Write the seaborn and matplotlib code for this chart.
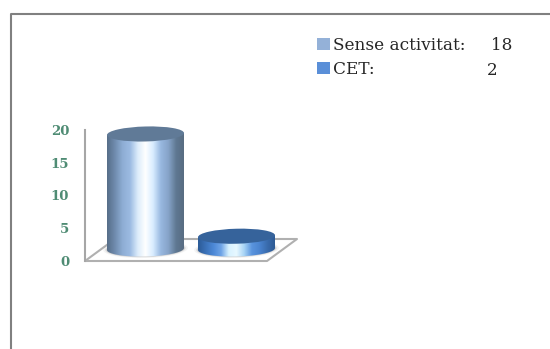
import numpy as np
import matplotlib
matplotlib.use("Agg")
import matplotlib.pyplot as plt
from matplotlib.colors import LinearSegmentedColormap
from matplotlib.lines import Line2D
from matplotlib.patches import Ellipse, Patch, Polygon
from matplotlib.transforms import Affine2D
import seaborn as sns

# Chart data
categories = ["Sense activitat", "CET"]
values = [18, 2]
y_ticks = [0, 5, 10, 15, 20]

# Styling
legend_colors = ["#94b1d8", "#5a8fd8"]
cap_colors = ["#607a97", "#36639b"]
side_stops = [
    ["#566d88", "#6f8bad", "#8eadd4", "#9cbbe2", "#dcecfb", "#ffffff", "#d8ecff", "#98b8e0", "#86a3c8", "#5f7892", "#586c82"],
    ["#2c5a96", "#3b71b8", "#4c88d6", "#6ea4e6", "#d8f2ff", "#e8f8ff", "#a8d4f6", "#5a94de", "#4a84d0", "#3a6cae", "#2d5a94"],
]
value_x = [491, 487]
W, H = 550, 349
SERIF = "DejaVu Serif"

sns.set_style("white")
fig = plt.figure(figsize=(W / 100, H / 100), dpi=100, facecolor="white")
pixels = Affine2D().scale(1 / W, -1 / H).translate(0, 1) + fig.transFigure


def axes_at(left, right, top, bottom):
    return fig.add_axes([left / W, 1 - bottom / H, (right - left) / W, (bottom - top) / H])


# Outer frame, open on the right and at the bottom
fig.add_artist(Line2D([11, 11, W], [H, 14, 14], color="#808080", lw=1.5, transform=pixels))

# Value axis on the front edge of the floor
axis = axes_at(84.5, 270, 130, 260.5)
axis.set_ylim(0, 20)
axis.set_xticks([])
axis.set_yticks(y_ticks)
axis.tick_params(axis="y", length=0, pad=11)
for label in axis.get_yticklabels():
    label.set(family=SERIF, fontweight="bold", fontsize=9.5, color="#4f8c74")
axis.patch.set_alpha(0)
for side in ("top", "right", "bottom"):
    axis.spines[side].set_visible(False)
axis.spines["left"].set(color="#a6a6a6", lw=1.5)

# Floor of the chart, kept behind the cylinders
fig.add_artist(Line2D([85, 267, 297, 115, 85], [261, 261, 239, 239, 261],
                      color="#b0b0b0", lw=1.5, transform=pixels, zorder=-1))

# Cylinders: seaborn sets the bar geometry, shading is layered on each bar
ax = axes_at(100, 282, 121.2, 249)
ax.patch.set_alpha(0)
sns.barplot(x=categories, y=values, hue=categories, palette=legend_colors,
            legend=False, width=0.846, ax=ax, order=categories, hue_order=categories)
ax.set_xlim(-0.5, 1.5)
ax.set_ylim(0, 20)
ax.axis("off")

cap_half = 7.5 / 6.39  # half the ellipse height, in value units
tilt = 0.35            # slope of the ellipses, value units per category unit
bars = list(ax.patches)[:len(values)]
for bar, stops, cap in zip(bars, side_stops, cap_colors):
    x0, w, h = bar.get_x(), bar.get_width(), bar.get_height()
    xc = x0 + w / 2
    bar.set_visible(False)
    sheared = Affine2D.from_values(1, tilt, 0, 1, 0, -tilt * xc) + ax.transData
    # soft contact shadow under the base
    for grow, alpha in ((1.10, 0.08), (1.05, 0.14), (1.02, 0.20)):
        ax.add_patch(Ellipse((xc, 0.0), w * grow, 2 * cap_half * (1 + (grow - 1) * 2),
                             fc="#777777", ec="none", alpha=alpha, clip_on=False, zorder=2,
                             transform=sheared))
    # outline of the cylinder's side, rounded along the base
    t = np.linspace(np.pi, 2 * np.pi, 60)
    outline = np.column_stack([xc + w / 2 * np.cos(t), cap_half * np.sin(t)])
    outline = np.vstack([[x0, h], outline, [x0 + w, h]])
    clip = Polygon(outline, closed=True, transform=sheared, fc="none", ec="none")
    ax.add_patch(clip)
    cmap = LinearSegmentedColormap.from_list("side", stops)
    img = ax.imshow(np.linspace(0, 1, 256)[None, :], cmap=cmap, aspect="auto",
                    extent=(x0, x0 + w, -2 * cap_half, h + 1), zorder=3, interpolation="bilinear")
    img.set_clip_box(fig.bbox)
    img.set_clip_path(clip)
    ax.add_patch(Ellipse((xc, h), w, 2 * cap_half, fc=cap, ec="none", clip_on=False, zorder=4,
                         transform=sheared))
ax.set_xlim(-0.5, 1.5)
ax.set_ylim(0, 20)

# Legend with the count of each category in its own column
handles = [Patch(fc=c, ec="none") for c in legend_colors]
labels = [f"{c}:" for c in categories]
legend = fig.legend(handles, labels, loc="upper left", bbox_to_anchor=(317 / W, 1 - 37 / H),
                    frameon=False, handlelength=0.75, handleheight=0.75, handletextpad=0.22,
                    labelspacing=0.42, borderpad=0, borderaxespad=0,
                    prop={"family": SERIF, "size": 12.2}, labelcolor="#262626")
for x, v, y in zip(value_x, values, (45, 70.5)):
    fig.text(x, y, str(v), transform=pixels, family=SERIF, fontsize=12.2, color="#262626", va="center")

fig.savefig("out.png", dpi=100, facecolor="white")
